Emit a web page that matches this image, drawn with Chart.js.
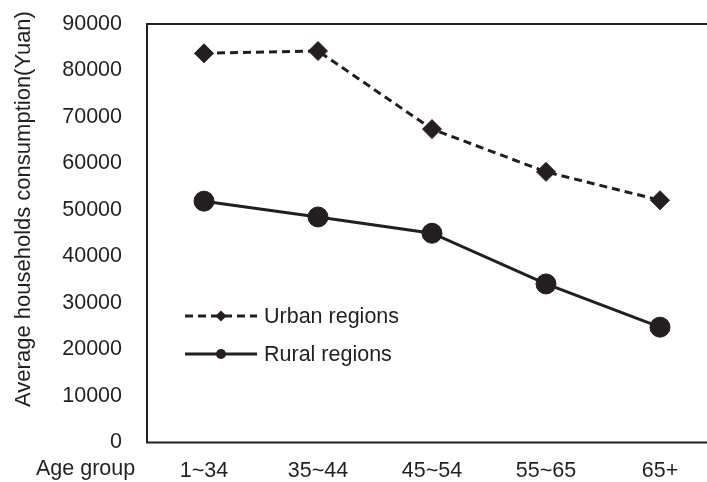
<!DOCTYPE html>
<html>
<head>
<meta charset="utf-8">
<script src="https://cdn.jsdelivr.net/npm/chart.js@4/dist/chart.umd.min.js"></script>
<style>
  html, body { margin: 0; padding: 0; background: #fff; overflow: hidden; }
  #wrap { position: relative; width: 720px; height: 482px; }
  canvas { display: block; }
</style>
</head>
<body>
<div id="wrap"><canvas id="c" width="720" height="482" style="width:720px;height:482px"></canvas></div>
<script>
const categories = ['1~34', '35~44', '45~54', '55~65', '65+'];
const urbanValues = [83700, 84200, 67400, 58200, 52100];
const ruralValues = [51900, 48500, 45000, 34100, 24800];
const yTicks = [0, 10000, 20000, 30000, 40000, 50000, 60000, 70000, 80000, 90000];
const seriesNames = ['Urban regions', 'Rural regions'];
const yTitle = 'Average households consumption(Yuan)';
const xTitle = 'Age group';

const INK = '#231f20';
const FONT = '"Liberation Sans", Arial, sans-serif';
const FS = 21.5;

const overlay = {
  id: 'overlay',
  afterDraw(chart) {
    const ctx = chart.ctx;
    const a = chart.chartArea;
    ctx.save();
    ctx.strokeStyle = INK;
    ctx.lineWidth = 2;
    ctx.setLineDash([]);
    ctx.beginPath();
    ctx.moveTo(chart.width, a.top);
    ctx.lineTo(a.left, a.top);
    ctx.lineTo(a.left, a.bottom);
    ctx.lineTo(chart.width, a.bottom);
    ctx.stroke();
    ctx.fillStyle = INK;
    ctx.font = '22px ' + FONT;
    ctx.textAlign = 'center';
    ctx.textBaseline = 'middle';
    ctx.save();
    ctx.translate(24, 209);
    ctx.rotate(-Math.PI / 2);
    ctx.fillText(yTitle, 0, 0);
    ctx.restore();
    ctx.font = FS + 'px ' + FONT;
    ctx.textAlign = 'left';
    ctx.fillText(xTitle, 36, 469);
    const ds = chart.data.datasets;
    const rows = [316, 354];
    ds.forEach((d, i) => {
      const y = rows[i];
      ctx.strokeStyle = INK;
      ctx.lineWidth = 2.8;
      ctx.setLineDash(d.borderDash || []);
      ctx.beginPath();
      ctx.moveTo(185, y);
      ctx.lineTo(257, y);
      ctx.stroke();
      ctx.setLineDash([]);
      ctx.fillStyle = INK;
      ctx.beginPath();
      if (d.pointStyle === 'rectRot') {
        const r = 5.5;
        ctx.moveTo(221, y - r); ctx.lineTo(221 + r, y); ctx.lineTo(221, y + r); ctx.lineTo(221 - r, y);
        ctx.closePath();
      } else {
        ctx.arc(221, y, 5, 0, Math.PI * 2);
      }
      ctx.fill();
      ctx.textAlign = 'left';
      ctx.textBaseline = 'middle';
      ctx.font = FS + 'px ' + FONT;
      ctx.fillText(d.label, 264, y + 1);
    });
    ctx.restore();
  }
};

new Chart(document.getElementById('c'), {
  type: 'line',
  data: {
    labels: categories,
    datasets: [
      {
        label: seriesNames[0],
        data: urbanValues,
        borderColor: INK,
        backgroundColor: INK,
        borderWidth: 3,
        borderDash: [8, 5],
        pointStyle: 'rectRot',
        pointRadius: 9.5,
        pointBorderWidth: 1,
        pointBackgroundColor: INK,
        pointBorderColor: INK,
        tension: 0
      },
      {
        label: seriesNames[1],
        data: ruralValues,
        borderColor: INK,
        backgroundColor: INK,
        borderWidth: 3,
        pointStyle: 'circle',
        pointRadius: 10,
        pointBorderWidth: 1,
        pointBackgroundColor: INK,
        pointBorderColor: INK,
        tension: 0
      }
    ]
  },
  options: {
    responsive: false,
    maintainAspectRatio: false,
    devicePixelRatio: 1,
    animation: false,
    layout: { autoPadding: false, padding: { left: 0, top: 24, right: 3, bottom: 0 } },
    plugins: { legend: { display: false }, tooltip: { enabled: false } },
    scales: {
      x: {
        type: 'category',
        offset: true,
        grid: { display: false, drawTicks: false },
        border: { display: false },
        ticks: { color: INK, font: { family: FONT, size: FS }, padding: 16, maxRotation: 0 },
        afterFit(s) { s.height = 39.5; s.paddingLeft = 0; s.paddingRight = 0; }
      },
      y: {
        min: 0,
        max: 90000,
        grid: { display: false, drawTicks: false },
        border: { display: false },
        afterBuildTicks(s) { s.ticks = yTicks.map(v => ({ value: v })); },
        ticks: { color: INK, font: { family: FONT, size: FS }, padding: 25, callback: v => String(v) },
        afterFit(s) { s.width = 147; s.paddingTop = 0; s.paddingBottom = 0; }
      }
    }
  },
  plugins: [overlay]
});
</script>
</body>
</html>
